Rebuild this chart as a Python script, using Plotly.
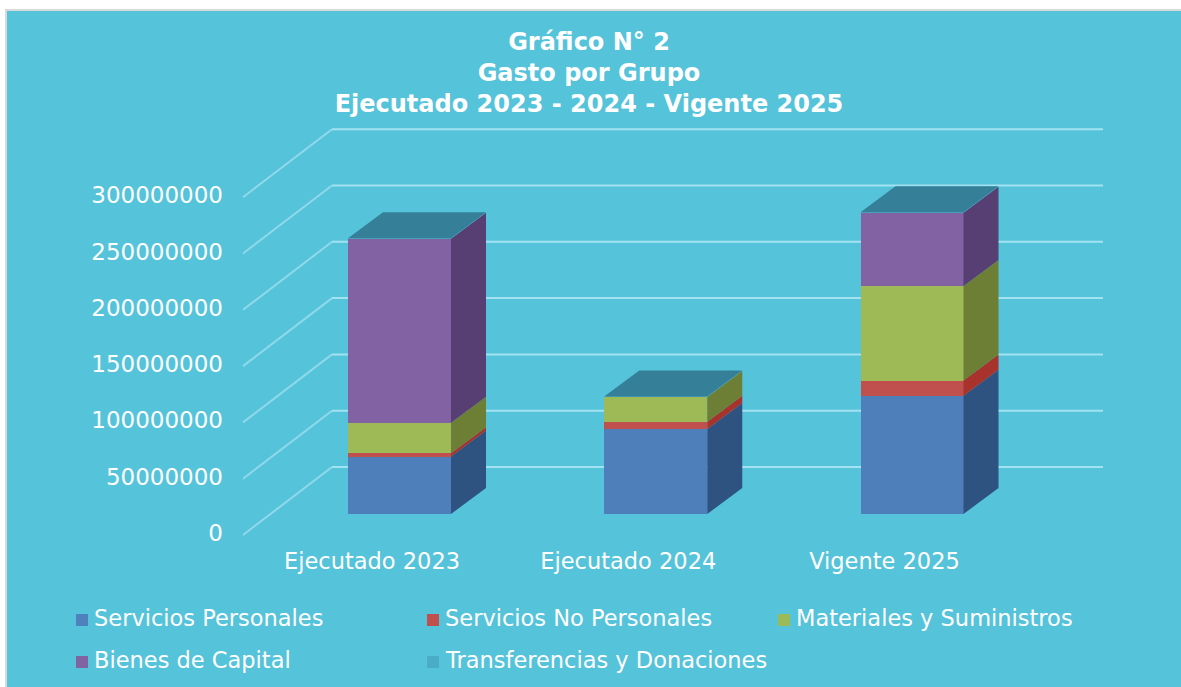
import plotly.graph_objects as go

categories = ["Ejecutado 2023", "Ejecutado 2024", "Vigente 2025"]
series_names = ["Servicios Personales", "Servicios No Personales", "Materiales y Suministros",
                "Bienes de Capital", "Transferencias y Donaciones"]
servicios_personales = [51000000, 75500000, 105000000]
servicios_no_personales = [3000000, 6500000, 13500000]
materiales = [27000000, 22000000, 84000000]
bienes_capital = [163500000, 0, 65000000]
transferencias = [500000, 300000, 500000]
y_ticks = [0, 50000000, 100000000, 150000000, 200000000, 250000000, 300000000]

front_colors = ["#4F7FBB", "#C0504D", "#9DBA56", "#8262A3", "#4BACC6"]
side_colors = ["#2F5380", "#A8322C", "#6C7F35", "#573E73", "#2F7F97"]
top_color = "#367F99"
legend_colors = ["#4F81BD", "#C0504D", "#9BBB59", "#8064A2", "#4BACC6"]
panel = "#55C3DA"
grid = "#A3E2F0"
FONT = "DejaVu Sans"

W, H = 1181, 687
L, R, T, B = 232, 1130, 110, 545
PX_PER_UNIT = 1.126e-6      # px per value
STEP = 256.25               # px per category
X0 = 399.5                  # px of category 0
Y0 = 514                    # px of value 0
xd = lambda px: (px - X0) / STEP
yd = lambda px: (Y0 - px) / PX_PER_UNIT
px_x = lambda px: (px - L) / (R - L)
px_y = lambda py: (B - py) / (B - T)

bar_w = 103 / STEP
dep_x = 35 / STEP
dep_y = 26 / PX_PER_UNIT
xs = list(range(len(categories)))
stacks = [servicios_personales, servicios_no_personales, materiales, bienes_capital, transferencias]

fig = go.Figure()
for name, vals, col in zip(series_names, stacks, front_colors):
    fig.add_trace(go.Bar(x=xs, y=vals, name=name, width=bar_w, marker=dict(color=col, line=dict(width=0)),
                         showlegend=False))

base = [0, 0, 0]
for vals, col in zip(stacks, side_colors):
    px_, py_ = [], []
    for i, v in enumerate(vals):
        if v == 0:
            continue
        xr = i + bar_w / 2
        b, t = base[i], base[i] + v
        px_ += [xr, xr + dep_x, xr + dep_x, xr, xr, None]
        py_ += [b, b + dep_y, t + dep_y, t, b, None]
    fig.add_trace(go.Scatter(x=px_, y=py_, mode="lines", fill="toself", fillcolor=col,
                             line=dict(width=0), hoverinfo="skip", showlegend=False))
    base = [a + c for a, c in zip(base, vals)]

px_, py_ = [], []
for i, t in enumerate(base):
    xl, xr = i - bar_w / 2, i + bar_w / 2
    px_ += [xl, xl + dep_x, xr + dep_x, xr, xl, None]
    py_ += [t, t + dep_y, t + dep_y, t, t, None]
fig.add_trace(go.Scatter(x=px_, y=py_, mode="lines", fill="toself", fillcolor=top_color,
                         line=dict(width=0), hoverinfo="skip", showlegend=False))

shapes = [dict(type="rect", xref="paper", yref="paper", layer="below",
               x0=px_x(6), x1=px_x(W + 10), y0=px_y(H + 10), y1=px_y(10),
               fillcolor=panel, line=dict(color="#D9D9D9", width=2))]
for v in y_ticks:
    yf = yd(535) + v
    yb = yd(467) + v
    shapes.append(dict(type="line", layer="below", xref="x", yref="y", x0=xd(243), x1=xd(332), y0=yf, y1=yb,
                       line=dict(color="#8FD9EA", width=2)))
    shapes.append(dict(type="line", layer="below", xref="x", yref="y", x0=xd(332), x1=xd(1103), y0=yb, y1=yb,
                       line=dict(color=grid, width=2)))

annotations = []
legend_pos = [(76, 618), (427, 618), (778, 618), (76, 660), (427, 660)]
for (lx, ly), name, col in zip(legend_pos, series_names, legend_colors):
    shapes.append(dict(type="rect", xref="paper", yref="paper", x0=px_x(lx), x1=px_x(lx + 12),
                       y0=px_y(ly + 8), y1=px_y(ly - 4), fillcolor=col, line=dict(width=0)))
    annotations.append(dict(xref="paper", yref="paper", x=px_x(lx + 16), y=px_y(ly), text=name,
                            showarrow=False, xanchor="left", yanchor="middle",
                            font=dict(family=FONT, size=22.5, color="white")))

fig.update_layout(
    width=W, height=H, autosize=False, barmode="stack",
    margin=dict(l=L, r=W - R, t=T, b=H - B),
    paper_bgcolor="white", plot_bgcolor="rgba(0,0,0,0)",
    title=dict(text="<b>Gráfico N° 2<br>Gasto por Grupo<br>Ejecutado 2023 - 2024 - Vigente 2025</b>",
               x=589 / W, xanchor="center", y=1 - 50 / H, yanchor="top",
               font=dict(family=FONT, size=24, color="white")),
    xaxis=dict(range=[xd(L), xd(R)], tickmode="array", tickvals=[i + xd(372) for i in xs], ticktext=categories,
               showgrid=False, zeroline=False, showline=False, ticks="",
               tickfont=dict(family=FONT, size=22.5, color="white")),
    yaxis=dict(range=[yd(B), yd(T)], tickmode="array", tickvals=[v + yd(533) for v in y_ticks],
               ticktext=[str(v) for v in y_ticks], showgrid=False, zeroline=False, showline=False, ticks="",
               ticklabelstandoff=8, tickfont=dict(family=FONT, size=23, color="white")),
    shapes=shapes, annotations=annotations, showlegend=False,
)
fig.write_html("out.html", config={"displayModeBar": False},
               post_script="document.body.style.margin='0';document.documentElement.style.overflow='hidden';")
